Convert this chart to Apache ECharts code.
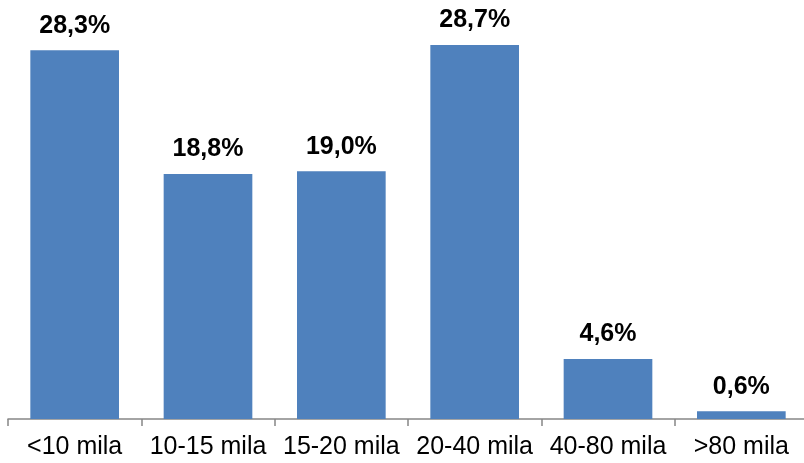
<!DOCTYPE html>
<html><head><meta charset="utf-8">
<script src="https://cdn.jsdelivr.net/npm/echarts@6/dist/echarts.min.js"></script>
<style>html,body{margin:0;padding:0;background:#fff}#c{width:804px;height:463px}</style>
</head><body><div id="c"></div>
<script>
var categories = ['<10 mila','10-15 mila','15-20 mila','20-40 mila','40-80 mila','>80 mila'];
var values = [28.3, 18.8, 19.0, 28.7, 4.6, 0.6];
var chart = echarts.init(document.getElementById('c'), null, {renderer:'canvas'});
chart.setOption({
  animation:false,
  grid:{left:8, top:28, width:800, height:391, containLabel:false, outerBoundsMode:'none'},
  xAxis:{type:'category', data:categories,
    axisLine:{lineStyle:{color:'#868686', width:1.5}},
    axisTick:{show:true, length:7, lineStyle:{color:'#868686', width:1.5}},
    axisLabel:{color:'#000', fontFamily:'Liberation Sans, Arial', fontSize:25, margin:16, interval:0, hideOverlap:false}
  },
  yAxis:{type:'value', min:0, max:30, show:false, splitLine:{show:false}},
  series:[{type:'bar', data:values, barCategoryGap:'33.5%',
    itemStyle:{color:'#4F81BD'},
    label:{show:true, position:'top', distance:12, color:'#000', fontWeight:'bold',
      fontFamily:'Liberation Sans, Arial', fontSize:25,
      formatter:function(p){return p.value.toFixed(1).replace('.',',')+'%';}}
  }]
});
</script></body></html>
